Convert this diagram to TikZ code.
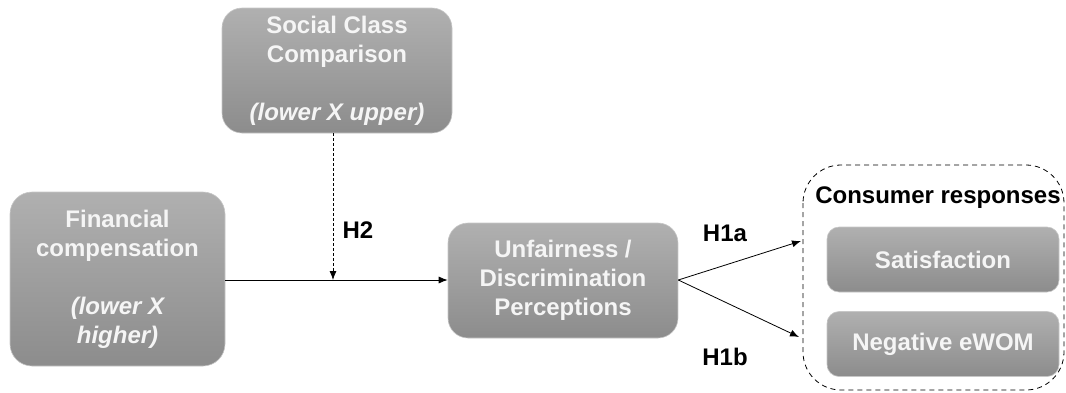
\documentclass[tikz,border=0pt]{standalone}
\usepackage{fontspec}
\setmainfont{Liberation Sans}
\usetikzlibrary{arrows.meta}
\tikzset{
  box/.style={rounded corners=20pt, top color=black!31, bottom color=black!45,
    draw=black!22, line width=0.6pt, text=white!96!black, align=center,
    font=\fontsize{24}{29}\selectfont\bfseries, inner sep=0pt},
  smallbox/.style={box, rounded corners=12pt},
  lbl/.style={font=\fontsize{24}{29}\selectfont\bfseries, inner sep=0pt},
  arr/.style={line width=0.8pt, -{Latex[length=9pt,width=7pt]}},
}
\begin{document}
\begin{tikzpicture}[x=1pt,y=-1pt]
\useasboundingbox (0,0) rectangle (1066,392);
\node[box, minimum width=230pt, minimum height=125pt] (social) at (337,70.5)
  {Social Class\\Comparison\\[29pt]\itshape(lower X upper)};
\node[box, rounded corners=22pt, minimum width=215pt, minimum height=174pt] (fin) at (117.5,279)
  {Financial\\compensation\\[29pt]\itshape(lower X\\\itshape higher)};
\node[box, minimum width=230pt, minimum height=115pt] (unfair) at (563,280.5)
  {Unfairness /\\Discrimination\\Perceptions};
\node[smallbox, minimum width=232pt, minimum height=65pt] (satis) at (943,259.5) {Satisfaction};
\node[smallbox, minimum width=232pt, minimum height=65pt] (ewom) at (943,344) {Negative eWOM};
\draw[line width=0.8pt, dash pattern=on 5pt off 4pt, rounded corners=38pt] (803,165) rectangle (1064,390);
\node[lbl] (resp) at (938,198) {Consumer responses};
\node[lbl] (h2) at (358,230) {H2};
\node[lbl] (h1a) at (725,233) {H1a};
\node[lbl] (h1b) at (725,357) {H1b};
\coordinate (mod) at (333,280);
\coordinate (ta) at (801,241);
\coordinate (tb) at (799,337);
\draw[arr] (fin.east |- mod) -- (unfair.west |- mod);
\draw[arr, dash pattern=on 3pt off 2pt] (mod |- social.south) -- (mod);
\draw[arr] (unfair.east |- mod) -- (ta);
\draw[arr] (unfair.east |- mod) -- (tb);
\end{tikzpicture}
\end{document}
